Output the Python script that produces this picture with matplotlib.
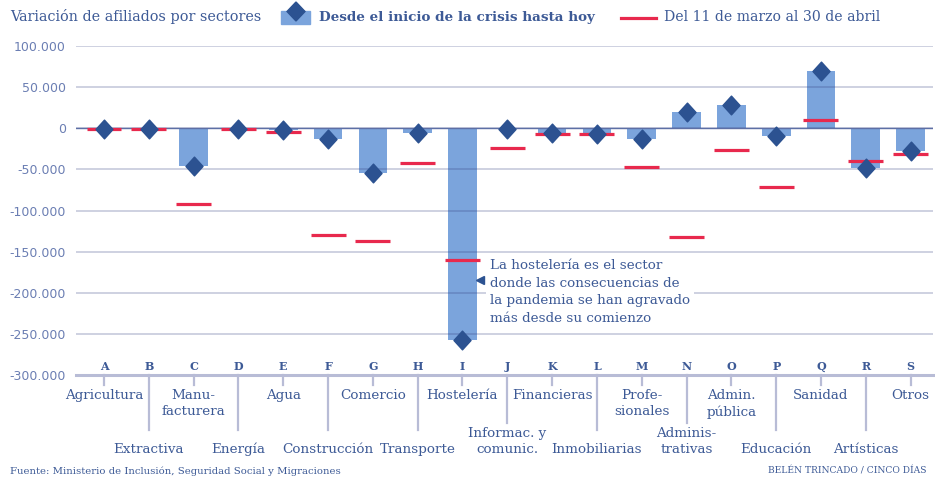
import matplotlib
matplotlib.use("Agg")
import matplotlib.pyplot as plt
from matplotlib.patches import Rectangle, Polygon
from matplotlib.lines import Line2D
from matplotlib.path import Path
from matplotlib.transforms import blended_transform_factory
import numpy as np

# ---- data ----
letters = list("ABCDEFGHIJKLMNOPQRS")
sectors = ["Agricultura", "Extractiva", "Manu-\nfacturera", "Energía", "Agua",
           "Construcción", "Comercio", "Transporte", "Hostelería",
           "Informac. y\ncomunic.", "Financieras", "Inmobiliarias",
           "Profe-\nsionales", "Adminis-\ntrativas", "Admin.\npública",
           "Educación", "Sanidad", "Artísticas", "Otros"]
desde_inicio = [-1000, -1000, -46500, -1000, -2500, -13000, -54000, -5500,
                -258000, -1500, -6000, -6500, -13500, 20000, 28500, -9000,
                70000, -48000, -27500]
marzo_abril = [-1500, -1500, -91500, -1500, -4000, -130000, -136500, -42500,
               -160500, -24500, -7300, -7500, -47500, -132000, -26500, -72000,
               9800, -40000, -31700]
yticks = [100000, 50000, 0, -50000, -100000, -150000, -200000, -250000, -300000]
ytick_labels = ["100.000", "50.000", "0", "-50.000", "-100.000", "-150.000",
                "-200.000", "-250.000", "-300.000"]

# ---- style ----
TXT = "#3d5a96"
TICKTXT = "#6b7eb3"
BAR = "#7ba4dc"
DIA = "#2c5291"
RED = "#e8294d"
AXL = "#b8bcd6"
SERIF = "DejaVu Serif"

W, H = 935, 480
fig = plt.figure(figsize=(W / 100, H / 100), dpi=100)
ax_l, ax_r, ax_t, ax_b = 76, 933, 46, 375
ax = fig.add_axes([ax_l / W, 1 - ax_b / H, (ax_r - ax_l) / W, (ax_b - ax_t) / H])
axh = ax_b - ax_t

x = np.arange(len(letters))
ax.bar(x, desde_inicio, width=0.64, color=BAR, zorder=1)
ax.set_axisbelow(False)
ax.yaxis.grid(True, color=(0.2, 0.25, 0.5), alpha=0.28, lw=1.2)
ax.axhline(0, color="#5d6fa5", lw=1.0, zorder=2.6)
ax.axhline(-300000, color=AXL, lw=2.2, zorder=2.7, clip_on=False)
ax.hlines(marzo_abril, x - 0.39, x + 0.39, color=RED, lw=2.3, zorder=4)

diamond = Path([(0, 1.1), (1, 0), (0, -1.1), (-1, 0), (0, 1.1)],
               [Path.MOVETO, Path.LINETO, Path.LINETO, Path.LINETO, Path.CLOSEPOLY])
ax.plot(x, desde_inicio, ls="none", marker=diamond, ms=13.5, color=DIA,
        mec=DIA, zorder=5, clip_on=False)

ax.set_xlim(-0.625, 18.5)
ax.set_ylim(-300000, 100000)
ax.set_yticks(yticks)
ax.set_yticklabels(ytick_labels, fontsize=9, color=TICKTXT, family="DejaVu Sans")
ax.tick_params(axis="y", length=0, pad=7.2)
ax.set_xticks([])
for s in ax.spines.values():
    s.set_visible(False)

bt = blended_transform_factory(ax.transData, ax.transAxes)
for i, (let, name) in enumerate(zip(letters, sectors)):
    ax.text(i, 8 / axh, let, transform=bt, ha="center", va="center",
            fontsize=8, fontweight="bold", color=TXT, family=SERIF)
    if i % 2 == 0:
        ln = 10
    elif "\n" in name:
        ln = 48
    else:
        ln = 55
    ax.add_line(Line2D([i, i], [0, -ln / axh], transform=bt, color=AXL,
                       lw=1.6, clip_on=False))
    if i % 2 == 0:
        ax.text(i, -(389 - ax_b) / axh, name, transform=bt, ha="center",
                va="top", fontsize=9.7, color=TXT, family=SERIF,
                linespacing=1.32, multialignment="center")
    else:
        ax.text(i, -(453 - ax_b) / axh, name, transform=bt, ha="center",
                va="baseline", fontsize=9.7, color=TXT, family=SERIF,
                linespacing=1.32, multialignment="center")

# annotation
ax.text(8.61, -159000,
        "La hostelería es el sector\ndonde las consecuencias de\nla pandemia se han agravado\nmás desde su comienzo",
        ha="left", va="top", fontsize=9.7, color=TXT, family=SERIF,
        linespacing=1.45, zorder=3,
        bbox=dict(facecolor="white", edgecolor="none", pad=3))
ax.plot([8.39], [-185000], marker="<", ms=6, color=DIA, ls="none", zorder=5)

# legend (manual)
def fx(px):
    return px / W
def fy(py):
    return 1 - py / H

fig.text(fx(10), fy(17), "Variación de afiliados por sectores", ha="left",
         va="center", fontsize=10.4, color=TXT, family=SERIF)
fig.add_artist(Rectangle((fx(281), fy(24)), fx(29), 13 / H,
                         transform=fig.transFigure, color=BAR))
fig.add_artist(Polygon([(fx(296), fy(2)), (fx(305), fy(11.5)),
                        (fx(296), fy(21)), (fx(287), fy(11.5))],
                       closed=True, transform=fig.transFigure, color=DIA))
fig.text(fx(319), fy(17), "Desde el inicio de la crisis hasta hoy", ha="left",
         va="center", fontsize=9.7, fontweight="bold", color=TXT, family=SERIF)
fig.add_artist(Line2D([fx(621), fx(656)], [fy(17.5), fy(17.5)],
                      transform=fig.transFigure, color=RED, lw=2.3))
fig.text(fx(664), fy(17), "Del 11 de marzo al 30 de abril", ha="left",
         va="center", fontsize=10.1, color=TXT, family=SERIF)

# footer
fig.text(fx(10), fy(471), "Fuente: Ministerio de Inclusión, Seguridad Social y Migraciones",
         ha="left", va="center", fontsize=7.3, color=TXT, family=SERIF)
fig.text(fx(926), fy(471), "BELÉN TRINCADO / CINCO DÍAS",
         ha="right", va="center", fontsize=6.6, color=TXT, family=SERIF)

fig.savefig("out.png", dpi=100, facecolor="white")
